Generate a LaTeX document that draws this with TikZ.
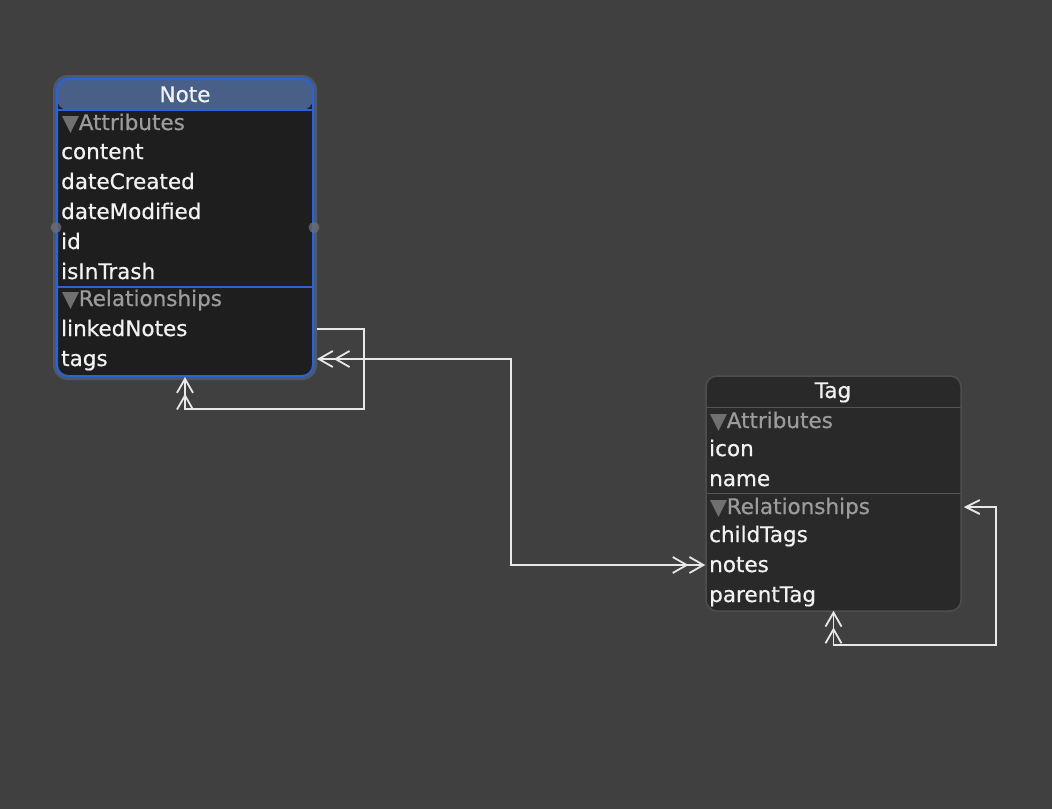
\documentclass[tikz,border=0pt]{standalone}
\usepackage{fontspec}
\setmainfont{DejaVu Sans}[RawFeature={embolden=0.6}]
\usetikzlibrary{arrows.meta}
\definecolor{bg}{HTML}{404040}
\definecolor{notebody}{HTML}{1E1E1E}
\definecolor{notehead}{HTML}{486088}
\definecolor{selblue}{HTML}{2A62D8}
\definecolor{glow}{HTML}{4C5870}
\definecolor{tagbody}{HTML}{292929}
\definecolor{tagborder}{HTML}{4E4E4E}
\definecolor{tagline}{HTML}{555555}
\definecolor{txt}{HTML}{F2F2F2}
\definecolor{sect}{HTML}{9C9C9C}
\definecolor{trig}{HTML}{707070}
\definecolor{conncol}{HTML}{E8E8E8}
\definecolor{dotcol}{HTML}{6C6C74}
\tikzset{
  manytip/.tip={Straight Barb[length=14pt,width=16pt,sep=0pt]Straight Barb[length=14pt,width=16pt]},
  onetip/.tip={Straight Barb[length=14pt,width=14pt]},
  rowtext/.style={anchor=base west, inner xsep=0pt, inner ysep=0pt, text height=15pt, text depth=1pt, text=txt, font=\fontsize{21.5}{24}\selectfont},
  titletext/.style={rowtext, anchor=base},
  secttext/.style={rowtext, text=sect},
  conn/.style={draw=conncol, line width=1.8pt},
  sidedot/.style={circle, fill=dotcol, opacity=0.8, minimum size=11pt, inner sep=0pt},
}
\newcommand{\secthead}[1]{{\color{trig}▼}#1}
\begin{document}
\begin{tikzpicture}[x=1pt,y=-1pt]
\useasboundingbox (0,0) rectangle (1052,809);
\fill[bg] (0,0) rectangle (1052,809);

% ---------- Note entity ----------
\fill[glow, rounded corners=15pt] (53,75) rectangle (317,380);
\node[draw=selblue, line width=2pt, fill=notebody, rounded corners=11pt,
      minimum width=256pt, minimum height=297pt, inner sep=0pt,
      path picture={
        \fill[notehead] (path picture bounding box.north west) rectangle ([yshift=-31pt]path picture bounding box.north east);
        \draw[selblue, line width=1.6pt] ([yshift=-31pt]path picture bounding box.north west) -- ([yshift=-31pt]path picture bounding box.north east);
        \draw[selblue, line width=1.6pt] ([yshift=-208pt]path picture bounding box.north west) -- ([yshift=-208pt]path picture bounding box.north east);
      }] (note) at (185,227.5) {};
\node[sidedot] (dotL) at (note.west) {};
\node[sidedot] (dotR) at (note.east) {};

\node[titletext] (n-title) at (185,102) {Note};
\node[secttext] (n-attr) at (62,130) {\secthead{Attributes}};
\node[rowtext] (n-content) at (61,159) {content};
\node[rowtext] (n-created) at (61,189) {dateCreated};
\node[rowtext] (n-modified) at (61,219) {dateModified};
\node[rowtext] (n-id) at (61,249) {id};
\node[rowtext] (n-trash) at (61,279) {isInTrash};
\node[secttext] (n-rel) at (62,306) {\secthead{Relationships}};
\node[rowtext] (n-linked) at (61,336) {linkedNotes};
\node[rowtext] (n-tags) at (61,366) {tags};

% ---------- Tag entity ----------
\node[draw=tagborder, line width=1.5pt, fill=tagbody, rounded corners=11pt,
      minimum width=255pt, minimum height=235pt, inner sep=0pt,
      path picture={
        \draw[tagline, line width=1.6pt] ([yshift=-31.5pt]path picture bounding box.north west) -- ([yshift=-31.5pt]path picture bounding box.north east);
        \draw[tagline, line width=1.6pt] ([yshift=-117.5pt]path picture bounding box.north west) -- ([yshift=-117.5pt]path picture bounding box.north east);
      }] (tag) at (833.5,493.5) {};

\node[titletext] (t-title) at (833,398) {Tag};
\node[secttext] (t-attr) at (710,428) {\secthead{Attributes}};
\node[rowtext] (t-icon) at (709,456) {icon};
\node[rowtext] (t-name) at (709,486) {name};
\node[secttext] (t-rel) at (710,514) {\secthead{Relationships}};
\node[rowtext] (t-child) at (709,542) {childTags};
\node[rowtext] (t-notes) at (709,572) {notes};
\node[rowtext] (t-parent) at (709,602) {parentTag};

% ---------- connectors ----------
\coordinate (c1) at (364,409);
\coordinate (c2) at (511,565);
\coordinate (c3) at (996,645);

% linkedNotes (self, to-many)
\draw[conn, -manytip, shorten <=3pt] (note.east |- n-linked) -| (c1) -| (note.south);
% tags <-> notes
\draw[conn, manytip-manytip, shorten <=3pt] (note.east |- n-tags) -| (c2) -- (tag.west |- t-notes);
% parentTag / childTags (self)
\draw[conn, onetip-manytip, shorten <=2pt, shorten >=-1pt] (tag.east |- t-rel) -| (c3) -| (tag.south);
\end{tikzpicture}
\end{document}
